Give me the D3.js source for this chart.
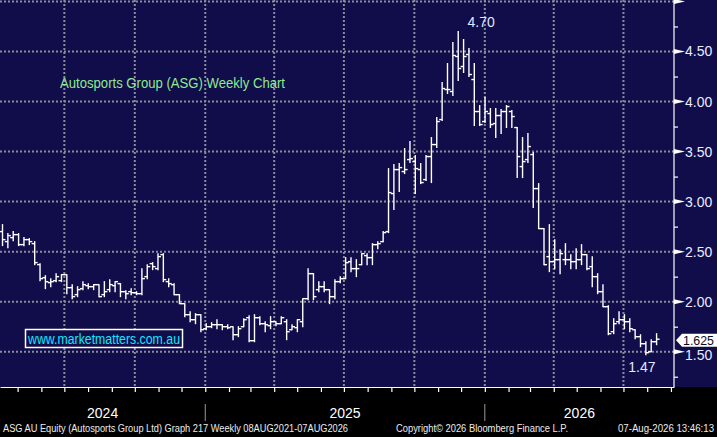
<!DOCTYPE html>
<html>
<head>
<meta charset="utf-8">
<script src="https://cdn.jsdelivr.net/npm/d3@7"></script>
<style>
  html, body { margin: 0; padding: 0; background: #000; }
  svg { display: block; font-family: "Liberation Sans", Arial, sans-serif; }
</style>
</head>
<body>
<svg id="chart" width="717" height="437"></svg>
<script>
// weekly bars, first bar is the week ending Fri 5 Apr 2024
const firstWeek = "2024-04-05";

const weekOpen = [
  2.70, 2.60, 2.64, 2.67, 2.57, 2.62, 2.58, 2.37, 2.24, 2.19,
  2.21, 2.21, 2.27, 2.14, 2.07, 2.13, 2.16, 2.15, 2.17, 2.07,
  2.12, 2.16, 2.18, 2.10, 2.10, 2.09, 2.08, 2.25, 2.38, 2.33,
  2.47, 2.20, 2.17, 2.07, 1.98, 1.87, 1.82, 1.87, 1.73, 1.75,
  1.77, 1.77, 1.75, 1.75, 1.67, 1.75, 1.84, 1.61, 1.84, 1.78,
  1.76, 1.80, 1.78, 1.80, 1.72, 1.74, 1.80, 2.03, 2.28, 2.12,
  2.15, 2.12, 2.05, 2.20, 2.23, 2.40, 2.33, 2.37, 2.46, 2.44,
  2.57, 2.60, 2.70, 3.08, 3.32, 3.30, 3.42, 3.40, 3.32, 3.22,
  3.45, 3.57, 3.82, 4.12, 4.10, 4.45, 4.35, 4.47, 4.22, 3.90,
  3.80, 3.88, 3.78, 3.86, 3.90, 3.90, 3.74, 3.35, 3.42, 3.47,
  3.13, 2.73, 2.45, 2.40, 2.42, 2.42, 2.42, 2.40, 2.42, 2.47,
  2.35, 2.25, 2.10, 1.95, 1.70, 1.80, 1.82, 1.80, 1.72, 1.65,
  1.58, 1.50, 1.60
];
const weekHigh = [
  2.77, 2.68, 2.70, 2.68, 2.64, 2.63, 2.60, 2.38, 2.26, 2.23,
  2.28, 2.27, 2.27, 2.17, 2.15, 2.20, 2.18, 2.17, 2.17, 2.20,
  2.22, 2.20, 2.18, 2.11, 2.13, 2.10, 2.33, 2.37, 2.39, 2.48,
  2.48, 2.23, 2.18, 2.07, 1.98, 1.90, 1.88, 1.87, 1.78, 1.79,
  1.82, 1.77, 1.77, 1.75, 1.75, 1.83, 1.86, 1.87, 1.85, 1.80,
  1.85, 1.80, 1.85, 1.82, 1.77, 1.82, 2.03, 2.33, 2.28, 2.20,
  2.20, 2.12, 2.22, 2.25, 2.44, 2.44, 2.42, 2.48, 2.48, 2.58,
  2.60, 2.70, 3.33, 3.37, 3.38, 3.53, 3.60, 3.46, 3.38, 3.46,
  3.64, 3.84, 4.19, 4.38, 4.59, 4.70, 4.62, 4.53, 4.38, 3.96,
  4.04, 3.93, 3.93, 3.92, 3.96, 3.91, 3.74, 3.64, 3.68, 3.49,
  3.18, 2.73, 2.77, 2.62, 2.52, 2.58, 2.47, 2.53, 2.57, 2.47,
  2.45, 2.28, 2.17, 1.96, 1.83, 1.90, 1.87, 1.83, 1.72, 1.67,
  1.60, 1.62, 1.68
];
const weekLow = [
  2.56, 2.54, 2.61, 2.56, 2.56, 2.57, 2.37, 2.21, 2.13, 2.15,
  2.20, 2.20, 2.08, 2.03, 2.05, 2.12, 2.13, 2.12, 2.05, 2.05,
  2.10, 2.10, 2.05, 2.03, 2.07, 2.07, 2.07, 2.23, 2.32, 2.32,
  2.20, 2.15, 2.07, 1.98, 1.85, 1.80, 1.78, 1.70, 1.72, 1.74,
  1.73, 1.72, 1.73, 1.62, 1.65, 1.75, 1.60, 1.60, 1.77, 1.70,
  1.73, 1.76, 1.78, 1.62, 1.72, 1.70, 1.75, 2.02, 2.02, 2.10,
  2.10, 1.98, 2.03, 2.19, 2.23, 2.30, 2.25, 2.37, 2.37, 2.37,
  2.53, 2.60, 2.69, 2.92, 3.10, 3.28, 3.39, 3.08, 3.18, 3.21,
  3.19, 3.54, 3.81, 4.08, 4.06, 4.21, 4.29, 4.25, 3.76, 3.76,
  3.79, 3.74, 3.64, 3.68, 3.74, 3.74, 3.24, 3.24, 3.39, 2.94,
  2.73, 2.37, 2.30, 2.33, 2.28, 2.37, 2.33, 2.33, 2.37, 2.32,
  2.15, 2.08, 1.95, 1.67, 1.68, 1.78, 1.73, 1.70, 1.63, 1.55,
  1.47, 1.50, 1.57
];
const weekClose = [
  2.62, 2.66, 2.67, 2.57, 2.62, 2.60, 2.39, 2.23, 2.20, 2.20,
  2.25, 2.27, 2.14, 2.05, 2.12, 2.17, 2.15, 2.17, 2.05, 2.10,
  2.17, 2.20, 2.10, 2.08, 2.09, 2.08, 2.23, 2.35, 2.35, 2.45,
  2.22, 2.18, 2.07, 1.98, 1.87, 1.82, 1.87, 1.72, 1.75, 1.77,
  1.77, 1.75, 1.74, 1.67, 1.73, 1.82, 1.61, 1.84, 1.78, 1.77,
  1.80, 1.78, 1.84, 1.70, 1.75, 1.82, 2.03, 2.28, 2.05, 2.15,
  2.12, 2.05, 2.20, 2.23, 2.39, 2.33, 2.33, 2.48, 2.44, 2.57,
  2.58, 2.69, 3.09, 3.32, 3.34, 3.32, 3.43, 3.33, 3.19, 3.45,
  3.57, 3.80, 4.13, 4.12, 4.46, 4.33, 4.45, 4.27, 3.90, 3.77,
  3.90, 3.77, 3.86, 3.90, 3.95, 3.85, 3.45, 3.40, 3.55, 3.13,
  2.73, 2.37, 2.40, 2.42, 2.48, 2.42, 2.40, 2.42, 2.47, 2.33,
  2.25, 2.10, 1.95, 1.68, 1.78, 1.82, 1.80, 1.73, 1.65, 1.58,
  1.49, 1.60, 1.625
];

// axis labels
const priceTicks = [1.5, 2.0, 2.5, 3.0, 3.5, 4.0, 4.5];
const priceMinor = [1.25, 1.75, 2.25, 2.75, 3.25, 3.75, 4.25, 4.75];
const gridLevels = [1.5, 2.0, 2.5, 3.0, 3.5, 4.0, 4.5, 5.0];
const yearLabels = ["2024", "2025", "2026"];

const chartTitle = "Autosports Group (ASG) Weekly Chart";
const siteLabel = "www.marketmatters.com.au";
const footerLeft = "ASG AU Equity (Autosports Group Ltd) Graph 217 Weekly 08AUG2021-07AUG2026";
const footerMid = "Copyright\u00a9 2026 Bloomberg Finance L.P.";
const footerRight = "07-Aug-2026 13:46:13";

function whenDocumentLoaded(action) {
	if (document.readyState === "loading") {
		document.addEventListener("DOMContentLoaded", action);
	} else {
		action();
	}
}

function drawChart() {
  const svg = d3.select("#chart");
  const W = 717, H = 437;
  const plotW = 674, plotH = 387;
  const navy = "#100d4a";

  const start = d3.timeParse("%Y-%m-%d")(firstWeek);
  const bars = weekOpen.map((o, i) => ({
    date: d3.timeWeek.offset(start, i),
    open: o, high: weekHigh[i], low: weekLow[i], close: weekClose[i]
  }));

  const x = d3.scaleTime()
    .domain([new Date(2024, 3, 8), new Date(2026, 8, 5)])
    .range([0, plotW]);
  const y = d3.scaleLinear()
    .domain([1.5, 4.5])
    .range([351.7, 51.5]);
  const barShift = 4.8; // bloomberg draws the week bar a little right of its date
  const bx = d => x(d.date) + barShift;

  // backgrounds
  svg.append("rect").attr("width", W).attr("height", H).attr("fill", "#000");
  svg.append("rect").attr("width", W).attr("height", plotH).attr("fill", navy);

  // dotted grid
  const grid = svg.append("g")
    .attr("stroke", "#8c8c98")
    .attr("stroke-width", 2)
    .attr("stroke-dasharray", "2,2");
  grid.selectAll("line.h")
    .data(gridLevels)
    .enter().append("line")
    .attr("class", "h")
    .attr("x1", 0).attr("x2", plotW)
    .attr("y1", d => y(d)).attr("y2", d => y(d));
  grid.selectAll("line.v")
    .data(d3.timeMonth.every(3).range(x.domain()[0], x.domain()[1]))
    .enter().append("line")
    .attr("class", "v")
    .attr("x1", d => x(d)).attr("x2", d => x(d))
    .attr("y1", 0).attr("y2", plotH);

  // title + site box
  svg.append("text")
    .attr("x", 60).attr("y", 88)
    .attr("font-size", 14)
    .attr("fill", "#8fe98f")
    .attr("textLength", 225)
    .attr("lengthAdjust", "spacingAndGlyphs")
    .text(chartTitle);

  svg.append("rect")
    .attr("x", 25.5).attr("y", 329.5)
    .attr("width", 157).attr("height", 18)
    .attr("fill", navy)
    .attr("stroke", "#fff")
    .attr("stroke-width", 1.5);
  svg.append("text")
    .attr("x", 28).attr("y", 344)
    .attr("font-size", 14)
    .attr("fill", "#10e8ff")
    .attr("textLength", 152)
    .attr("lengthAdjust", "spacingAndGlyphs")
    .text(siteLabel);

  // OHLC bars
  const ohlc = svg.append("g")
    .attr("stroke", "#fff")
    .attr("stroke-width", 1.4);
  const bar = ohlc.selectAll("g.bar")
    .data(bars)
    .enter().append("g")
    .attr("class", "bar");
  bar.append("line")
    .attr("x1", bx).attr("x2", bx)
    .attr("y1", d => y(d.high) - 0.5).attr("y2", d => y(d.low) + 0.5);
  bar.append("line")
    .attr("x1", d => bx(d) - 3).attr("x2", bx)
    .attr("y1", d => y(d.open)).attr("y2", d => y(d.open));
  bar.append("line")
    .attr("x1", bx).attr("x2", d => bx(d) + 3)
    .attr("y1", d => y(d.close)).attr("y2", d => y(d.close));

  // high / low call-outs
  const top = bars[d3.maxIndex(bars, d => d.high)];
  const bottom = bars[d3.minIndex(bars, d => d.low)];
  svg.append("text")
    .attr("x", bx(top) + 23).attr("y", 27)
    .attr("text-anchor", "middle")
    .attr("font-size", 14)
    .attr("fill", "#e2e8ff")
    .text(top.high.toFixed(2));
  svg.append("text")
    .attr("x", bx(bottom) - 4).attr("y", 372)
    .attr("text-anchor", "middle")
    .attr("font-size", 14)
    .attr("fill", "#e2e8ff")
    .text(bottom.low.toFixed(2));

  // bottom month ticks
  svg.append("g")
    .attr("transform", `translate(0,${plotH})`)
    .call(d3.axisBottom(x)
      .ticks(d3.timeMonth.every(1))
      .tickSize(5)
      .tickSizeOuter(0)
      .tickFormat(""))
    .call(g => g.selectAll("line, path").attr("stroke", "#fff").attr("stroke-width", 1.2));

  // right price axis
  svg.append("line")
    .attr("x1", plotW).attr("x2", plotW)
    .attr("y1", 0).attr("y2", plotH)
    .attr("stroke", "#fff").attr("stroke-width", 1.2);

  svg.append("g")
    .attr("transform", `translate(${plotW},0)`)
    .call(d3.axisRight(y).tickValues(priceMinor).tickSize(4).tickFormat(""))
    .call(g => g.select(".domain").remove())
    .call(g => g.selectAll("line").attr("stroke", "#fff").attr("stroke-width", 1.2));

  // the lowest label sits just under the last-price tag, as in the original
  const major = svg.append("g")
    .attr("transform", `translate(${plotW},0)`)
    .call(d3.axisRight(y).tickValues(priceTicks).tickSize(0).tickPadding(11)
      .tickFormat(d3.format(".2f")))
    .call(g => g.select(".domain").remove());
  major.selectAll("text")
    .attr("font-size", 14)
    .attr("font-family", "Liberation Sans, Arial, sans-serif")
    .attr("fill", "#e8ecff")
    .attr("dy", d => d === 1.5 ? "0.55em" : "0.32em");

  svg.append("g")
    .attr("transform", `translate(${plotW},0)`)
    .selectAll("path")
    .data(gridLevels)
    .enter().append("path")
    .attr("d", d => `M0,${y(d) - 2.5}L11,${y(d)}L0,${y(d) + 2.5}Z`)
    .attr("fill", "#fff");

  // last price tag
  const last = bars[bars.length - 1];
  const ly = y(last.close) + 1;
  svg.append("path")
    .attr("d", `M676,${ly}L682,${ly - 6.5}L717,${ly - 6.5}L717,${ly + 6.5}L682,${ly + 6.5}Z`)
    .attr("fill", "#fff");
  svg.append("text")
    .attr("x", 683).attr("y", ly + 5)
    .attr("font-size", 13)
    .attr("fill", "#0a0a20")
    .attr("textLength", 31)
    .attr("lengthAdjust", "spacingAndGlyphs")
    .text(last.close.toFixed(3));

  // year labels under the axis
  const years = yearLabels.map(s => {
    const y0 = new Date(+s, 0, 1), y1 = new Date(+s + 1, 0, 1);
    return { label: s, a: Math.max(0, x(y0)), b: Math.min(plotW, x(y1)), start: x(y0) };
  });
  svg.selectAll("text.year")
    .data(years)
    .enter().append("text")
    .attr("class", "year")
    .attr("x", d => (d.a + d.b) / 2)
    .attr("y", 418)
    .attr("text-anchor", "middle")
    .attr("font-size", 14)
    .attr("fill", "#fff")
    .text(d => d.label);
  svg.selectAll("line.sep")
    .data(years.filter(d => d.start > 0))
    .enter().append("line")
    .attr("class", "sep")
    .attr("x1", d => d.start).attr("x2", d => d.start)
    .attr("y1", 404).attr("y2", 421)
    .attr("stroke", "#9a9a9a");

  // footer
  const foot = svg.append("g")
    .attr("font-size", 10)
    .attr("fill", "#ececec");
  foot.append("text").attr("x", 3).attr("y", 432)
    .attr("textLength", 345).attr("lengthAdjust", "spacingAndGlyphs").text(footerLeft);
  foot.append("text").attr("x", 396).attr("y", 432)
    .attr("textLength", 172).attr("lengthAdjust", "spacingAndGlyphs").text(footerMid);
  foot.append("text").attr("x", 618).attr("y", 432)
    .attr("textLength", 96).attr("lengthAdjust", "spacingAndGlyphs").text(footerRight);
}

whenDocumentLoaded(() => {
	drawChart();
});
</script>
</body>
</html>
